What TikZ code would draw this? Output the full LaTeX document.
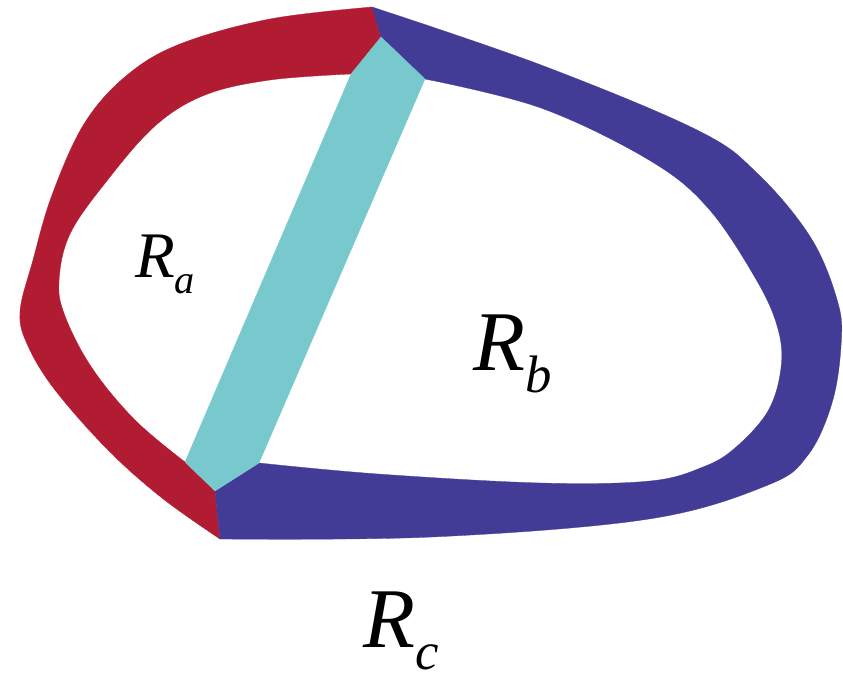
\documentclass[tikz,border=0pt]{standalone}
\usepackage{fontspec}
\setmainfont{Liberation Serif}
\usepackage{xcolor}
\definecolor{bandred}{RGB}{178,28,50}
\definecolor{bandblue}{RGB}{67,60,150}
\definecolor{bandcyan}{RGB}{120,201,206}
\newcommand{\regname}[1]{\textit{R}\raisebox{-.26em}{\scalebox{.62}{\textit{#1}}}}

\begin{document}
\begin{tikzpicture}[
        x=1pt, y=-1pt,
        % Estilo para cada banda
        redband/.style={fill=bandred, draw=bandred, line width=0.3pt, line join=round},
        blueband/.style={fill=bandblue, draw=bandblue, line width=0.3pt, line join=round},
        cyanband/.style={fill=bandcyan, draw=bandcyan, line width=0.3pt, line join=round},
        % Estilo para las etiquetas
        smallreg/.style={anchor=base west, inner sep=0pt, font=\fontsize{65}{70}\selectfont},
        bigreg/.style={anchor=base west, inner sep=0pt, font=\fontsize{85}{90}\selectfont}
    ]
        \useasboundingbox (0,0) rectangle (843,677);

        % Puntos de union
        \coordinate (top) at (372,7);
        \coordinate (topj) at (381,37);
        \coordinate (bot) at (220,539);
        \coordinate (botj) at (215,491);
        \coordinate (cyanTL) at (351,74);
        \coordinate (cyanTR) at (425,79);
        \coordinate (cyanBL) at (185,462);
        \coordinate (cyanBR) at (259,463);

        % --- BANDAS ---

        % 1. Banda roja (izquierda)
        \fill[redband] (top) -- plot[smooth, tension=0.6] coordinates {(372,7) (270,19) (180,44) (126,76) (84,124) (52,195) (33,260) (20,312) (28,346) (55,390) (108,450) (162,498) (220,539)}
              -- (botj) -- (cyanBL)
              -- plot[smooth, tension=0.6] coordinates {(185,462) (135,420) (92,368) (65,316) (59,281) (70,234) (106,182) (155,126) (205,95) (270,80) (351,74)}
              -- (topj) -- cycle;

        % 2. Banda azul (derecha)
        \fill[blueband] (top) -- plot[smooth, tension=0.6] coordinates {(372,7) (541,65) (697,130) (757,173) (811,238) (838,303) (841,346) (832,403) (808,455) (768,485) (649,519) (432,537) (220,539)}
              -- (botj) -- (cyanBR)
              -- plot[smooth, tension=0.6] coordinates {(259,463) (378,474) (541,483) (650,481) (703,467) (735,448) (768,411) (781,368) (778,329) (757,281) (708,208) (649,160) (541,108) (425,79)}
              -- (topj) -- cycle;

        % 3. Banda cian (diagonal)
        \fill[cyanband] (topj) -- (cyanTR) -- (cyanBR) -- (botj) -- (cyanBL) -- (cyanTL) -- cycle;

        % --- ETIQUETAS ---
        \node[smallreg] (ra) at (135,277) {\regname{a}};
        \node[bigreg] (rb) at (473,370) {\regname{b}};
        \node[bigreg] (rc) at (363,647) {\regname{c}};

    \end{tikzpicture}
\end{document}
